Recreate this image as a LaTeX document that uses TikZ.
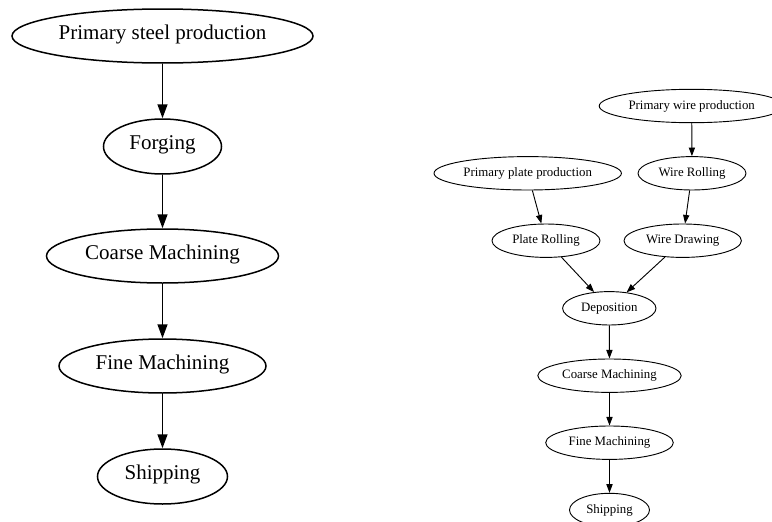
\documentclass[tikz,border=0pt]{standalone}
\usepackage{fontspec}
\setmainfont{Liberation Serif}
\usetikzlibrary{shapes.geometric,arrows.meta}
\newcommand\tb[1]{\makebox[0pt][c]{#1}}
\tikzset{
  bigel/.style={ellipse,draw,line width=1.5pt,inner sep=0pt,
    font=\fontsize{21}{25}\selectfont,text height=0.9em,text depth=0.26em},
  smallel/.style={ellipse,draw,line width=0.92pt,inner sep=0pt,
    font=\fontsize{12.85}{15}\selectfont,text height=0.9em,text depth=0.26em},
  bigarr/.style={line width=1.5pt,-{Triangle[length=14pt,width=10pt]}},
  smallarr/.style={line width=0.92pt,-{Triangle[length=8.6pt,width=6.2pt]}}
}
\begin{document}
\begin{tikzpicture}[x=1pt,y=1pt]
\useasboundingbox (0,0) rectangle (772,-522);
\clip (0,0) rectangle (772,-522);
% left graph
\node[bigel,minimum width=301pt,minimum height=54pt] (ps) at (162.5,-36) {\tb{Primary steel production}};
\node[bigel,minimum width=118pt,minimum height=55pt] (fo) at (162.5,-146.5) {\tb{Forging}};
\node[bigel,minimum width=232pt,minimum height=54pt] (cm) at (162.5,-256) {\tb{Coarse Machining}};
\node[bigel,minimum width=207pt,minimum height=54pt] (fm) at (162.5,-366) {\tb{Fine Machining}};
\node[bigel,minimum width=130pt,minimum height=55pt] (sh) at (162.5,-476.5) {\tb{Shipping}};
\draw[bigarr] (ps) -- (fo);
\draw[bigarr] (fo) -- (cm);
\draw[bigarr] (cm) -- (fm);
\draw[bigarr] (fm) -- (sh);
% right graph
\node[smallel,minimum width=185pt,minimum height=33.4pt] (pw) at (691.7,-106) {\tb{Primary wire production}};
\node[smallel,minimum width=187.4pt,minimum height=33.4pt] (pp) at (527.7,-173.3) {\tb{Primary plate production}};
\node[smallel,minimum width=108pt,minimum height=33.4pt] (wr) at (692,-173.3) {\tb{Wire Rolling}};
\node[smallel,minimum width=108pt,minimum height=33.4pt] (pr) at (546,-240.7) {\tb{Plate Rolling}};
\node[smallel,minimum width=117.4pt,minimum height=33.4pt] (wd) at (682.7,-240.7) {\tb{Wire Drawing}};
\node[smallel,minimum width=93.4pt,minimum height=33.4pt] (de) at (609.3,-308.3) {\tb{Deposition}};
\node[smallel,minimum width=143.4pt,minimum height=33.4pt] (rcm) at (609.5,-375.7) {\tb{Coarse Machining}};
\node[smallel,minimum width=127.6pt,minimum height=33.4pt] (rfm) at (609.5,-442.7) {\tb{Fine Machining}};
\node[smallel,minimum width=80pt,minimum height=33.4pt] (rsh) at (609.5,-510) {\tb{Shipping}};
\draw[smallarr] (pw) -- (wr);
\draw[smallarr] (pp) -- (pr);
\draw[smallarr] (wr) -- (wd);
\draw[smallarr] (pr) -- (de);
\draw[smallarr] (wd) -- (de);
\draw[smallarr] (de) -- (rcm);
\draw[smallarr] (rcm) -- (rfm);
\draw[smallarr] (rfm) -- (rsh);
\end{tikzpicture}
\end{document}
